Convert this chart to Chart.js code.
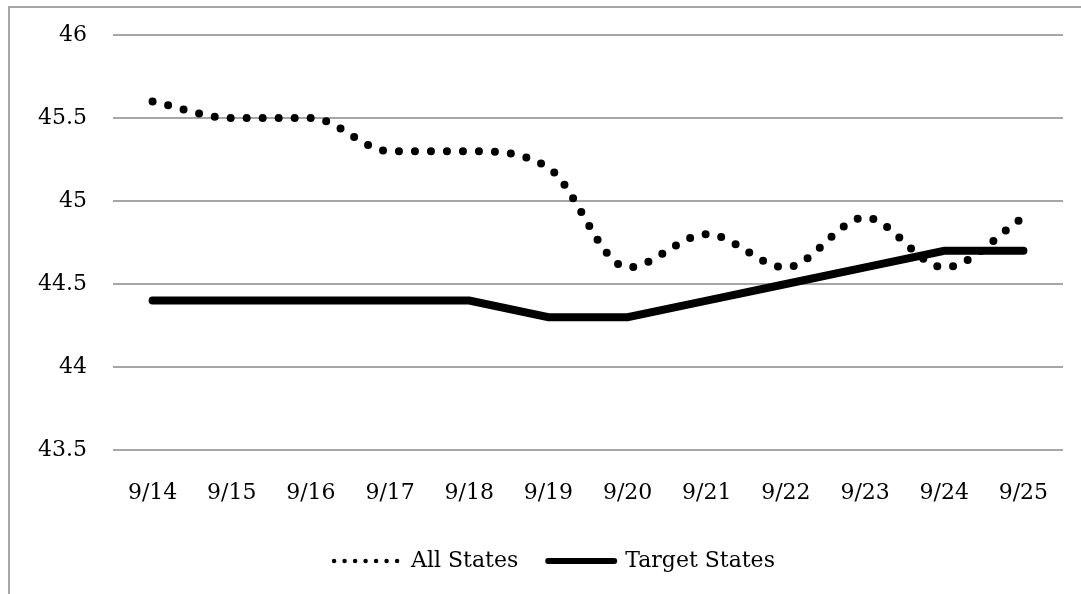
<!DOCTYPE html>
<html>
<head>
<meta charset="utf-8">
<script src="https://cdn.jsdelivr.net/npm/chart.js@4"></script>
<style>
    html, body { margin: 0; padding: 0; background: #fff; }
    #wrap { position: relative; width: 1081px; height: 594px; overflow: hidden; }
    #frame { position: absolute; left: 8px; top: 6px; width: 1200px; height: 700px; border-left: 2px solid #a6a6a6; border-top: 2px solid #a6a6a6; }
    canvas { position: absolute; left: 0; top: 0; }
</style>
</head>
<body>
<div id="wrap">
    <div id="frame"></div>
    <canvas id="chart" width="1081" height="594"></canvas>
</div>
<script>
const days = ['9/14', '9/15', '9/16', '9/17', '9/18', '9/19', '9/20', '9/21', '9/22', '9/23', '9/24', '9/25'];
const allStates = [45.6, 45.5, 45.5, 45.3, 45.3, 45.2, 44.6, 44.8, 44.6, 44.9, 44.6, 44.9];
const targetStates = [44.4, 44.4, 44.4, 44.4, 44.4, 44.3, 44.3, 44.4, 44.5, 44.6, 44.7, 44.7];
const yMin = 43.5;
const yMax = 46;
const yStep = 0.5;

const font = { family: "'DejaVu Serif', serif", size: 22 };

// nudge the legend right so it sits where the original one does
const legendShift = {
    id: 'legendShift',
    afterLayout(chart) {
        if (chart.legend) {
            chart.legend.left += 23;
            chart.legend.right += 23;
        }
    }
};

document.addEventListener('DOMContentLoaded', () => {
    const ctx = document.getElementById('chart');

    new Chart(ctx, {
        type: 'line',
        data: {
            labels: days,
            datasets: [
                {
                    label: 'All States',
                    data: allStates,
                    borderColor: '#000',
                    backgroundColor: '#000',
                    borderWidth: 8,
                    borderDash: [0, 16],
                    borderCapStyle: 'round',
                    cubicInterpolationMode: 'monotone',
                    pointRadius: 0,
                    fill: false
                },
                {
                    label: 'Target States',
                    data: targetStates,
                    borderColor: '#000',
                    backgroundColor: '#000',
                    borderWidth: 8,
                    borderCapStyle: 'round',
                    borderJoinStyle: 'miter',
                    tension: 0,
                    pointRadius: 0,
                    fill: false
                }
            ]
        },
        options: {
            responsive: false,
            animation: false,
            layout: { padding: { top: 35, right: 18, bottom: 12, left: 0 } },
            scales: {
                x: {
                    offset: true,
                    grid: { display: false },
                    border: { display: false },
                    ticks: { color: '#000', font: font, padding: 22, maxRotation: 0 },
                    afterFit: (scale) => { scale.height = 70; }
                },
                y: {
                    min: yMin,
                    max: yMax,
                    grid: { color: '#a6a6a6', lineWidth: 2, drawTicks: false },
                    border: { display: false },
                    ticks: {
                        stepSize: yStep,
                        color: '#000',
                        font: font,
                        padding: 26,
                        callback: (v) => String(v)
                    },
                    afterFit: (scale) => {
                        scale.width = 113;
                        scale.paddingTop = 0;
                        scale.paddingBottom = 0;
                    }
                }
            },
            plugins: {
                tooltip: { enabled: false },
                legend: {
                    position: 'bottom',
                    labels: {
                        color: '#000',
                        font: font,
                        usePointStyle: true,
                        pointStyle: 'line',
                        pointStyleWidth: 66,
                        padding: 30,
                        generateLabels: (chart) => {
                            const items = Chart.defaults.plugins.legend.labels.generateLabels(chart);
                            items.forEach(item => {
                                item.pointStyle = 'line';
                                if (item.text === 'All States') {
                                    item.lineWidth = 4.5;
                                    item.lineDash = [0, 10.5];
                                    item.lineCap = 'round';
                                } else {
                                    item.lineWidth = 6;
                                    item.lineCap = 'round';
                                }
                            });
                            return items;
                        }
                    }
                }
            }
        },
        plugins: [legendShift]
    });
});
</script>
</body>
</html>
